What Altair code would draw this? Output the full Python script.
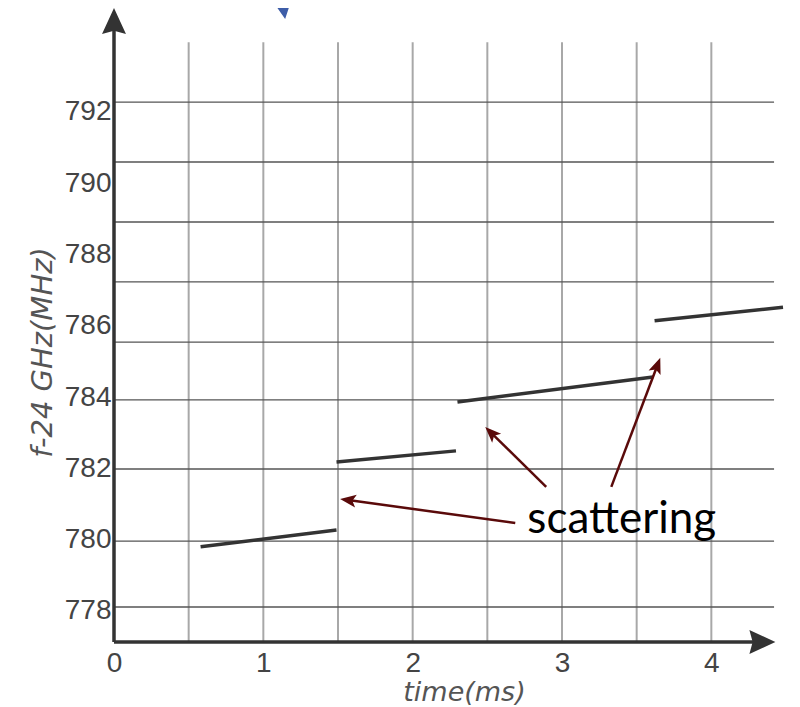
import math
import altair as alt
import pandas as pd

# ---------------- data ----------------
x_ticks = [0, 1, 2, 3, 4]
y_ticks = [778, 780, 782, 784, 786, 788, 790, 792]

# grid lines as drawn in the figure
grid_x = [0.5, 1.0, 1.5, 2.0, 2.5, 3.0, 3.5, 4.0]
grid_y = [778.11, 779.96, 781.98, 783.92, 785.54, 787.23, 788.91, 790.59, 792.27]
grid_x_end = 4.42
grid_y_top = 793.95

# frequency segments (start / end)
seg_t0 = [0.58, 1.49, 2.30, 3.62]
seg_f0 = [779.80, 782.18, 783.86, 786.14]
seg_t1 = [1.49, 2.29, 3.61, 4.48]
seg_f1 = [780.27, 782.49, 784.56, 786.52]

# annotation
note_text = ["scattering"]
note_t = [3.40]
note_f = [780.19]
arrow_t0 = [2.687, 2.894, 3.330]
arrow_f0 = [780.47, 781.48, 781.48]
arrow_t1 = [1.514, 2.486, 3.658]
arrow_f1 = [781.14, 783.16, 785.10]

# partial blue arrow at the top
blue_t0, blue_f0 = [1.125], [795.2]
blue_t1, blue_f1 = [1.146], [794.60]

# axis arrow tips
x_axis_tip = 4.429

# ---------------- scales ----------------
X_DOM = (0.0, 4.5)
W = 672
Y_DOM = (777.13, 794.91)
H = 634


def px(t):
    return (t - X_DOM[0]) / (X_DOM[1] - X_DOM[0]) * W


def py(f):
    return (Y_DOM[1] - f) / (Y_DOM[1] - Y_DOM[0]) * H


def tx(p):
    return X_DOM[0] + p / W * (X_DOM[1] - X_DOM[0])


def fy(p):
    return Y_DOM[1] - p / H * (Y_DOM[1] - Y_DOM[0])


def head(t0, f0, t1, f1, length):
    dx = px(t1) - px(t0)
    dy = py(f1) - py(f0)
    d = math.hypot(dx, dy)
    ux, uy = dx / d, dy / d
    cx = px(t1) - ux * length / 2
    cy = py(f1) - uy * length / 2
    ang = math.degrees(math.atan2(ux, -uy)) % 360
    return tx(cx), fy(cy), ang


xs = alt.Scale(domain=list(X_DOM), nice=False, zero=False)
ys = alt.Scale(domain=list(Y_DOM), nice=False, zero=False)

# ---------------- frames ----------------
vgrid_df = pd.DataFrame({"x": grid_x, "y": [Y_DOM[0]] * len(grid_x), "y2": [grid_y_top] * len(grid_x)})
hgrid_df = pd.DataFrame({"y": grid_y, "x": [0.0] * len(grid_y), "x2": [grid_x_end] * len(grid_y)})
seg_df = pd.DataFrame({"x": seg_t0, "y": seg_f0, "x2": seg_t1, "y2": seg_f1})

AL = 16  # annotation arrowhead length
heads = [head(a, b, c, d, AL) for a, b, c, d in zip(arrow_t0, arrow_f0, arrow_t1, arrow_f1)]
arr_df = pd.DataFrame({"x": arrow_t0, "y": arrow_f0,
                       "x2": [h[0] for h in heads], "y2": [h[1] for h in heads]})
head_df = pd.DataFrame({"x": [h[0] for h in heads], "y": [h[1] for h in heads],
                        "angle": [h[2] for h in heads]})

# axis arrows
XL = 26
y_head = head(0.0, Y_DOM[0], 0.0, Y_DOM[1], XL)
x_head = head(0.0, Y_DOM[0], x_axis_tip, Y_DOM[0], XL)
axis_line_df = pd.DataFrame({"x": [0.0, 0.0], "y": [Y_DOM[0], Y_DOM[0]],
                             "x2": [0.0, x_head[0]], "y2": [y_head[1], Y_DOM[0]]})
axis_head_df = pd.DataFrame({"x": [y_head[0], x_head[0]], "y": [y_head[1], x_head[1]],
                             "angle": [y_head[2], x_head[2]]})

BL = 15
b_head = head(blue_t0[0], blue_f0[0], blue_t1[0], blue_f1[0], BL)
blue_line_df = pd.DataFrame({"x": blue_t0, "y": blue_f0, "x2": [b_head[0]], "y2": [b_head[1]]})
blue_head_df = pd.DataFrame({"x": [b_head[0]], "y": [b_head[1]], "angle": [b_head[2]]})

note_df = pd.DataFrame({"x": note_t, "y": note_f, "text": note_text})

# ---------------- axes (shared by every layer) ----------------
x_axis = alt.Axis(values=x_ticks, title="time(ms)", grid=False, ticks=False, domain=False,
                  labelFont="Liberation Sans", labelFontSize=28, labelColor="#444",
                  labelPadding=7, labelFlush=False, format="d",
                  titleFont="DejaVu Sans", titleFontStyle="italic", titleFontWeight="normal",
                  titleFontSize=27, titleColor="#555", titleX=350, titleY=50,
                  titleBaseline="middle", titleAlign="center")
y_axis = alt.Axis(values=y_ticks, title="f-24 GHz(MHz)", grid=False, ticks=False, domain=False,
                  labelFont="Liberation Sans", labelFontSize=28, labelColor="#444",
                  labelPadding=3, labelFlush=False, format="d",
                  titleFont="DejaVu Sans", titleFontStyle="italic", titleFontWeight="normal",
                  titleFontSize=29, titleColor="#555", titleX=-72, titleY=344,
                  titleAngle=270, titleBaseline="middle", titleAlign="center")


def X(f="x"):
    return alt.X(f + ":Q", scale=xs, axis=x_axis)


def Y(f="y"):
    return alt.Y(f + ":Q", scale=ys, axis=y_axis)


vgrid = alt.Chart(vgrid_df).mark_rule(color="#a8a8a8", strokeWidth=2).encode(
    x=X(), y=Y(), y2="y2:Q",
)
hgrid = alt.Chart(hgrid_df).mark_rule(color="#555555", strokeWidth=1.4).encode(
    x=X(), x2="x2:Q", y=Y(),
)
axis_lines = alt.Chart(axis_line_df).mark_rule(color="#333333", strokeWidth=3.5).encode(
    x=X(), x2="x2:Q", y=Y(), y2="y2:Q",
)
axis_heads = alt.Chart(axis_head_df).mark_point(
    shape="M0,-1L0.92,1L0,0.75L-0.92,1Z", filled=True, size=XL * XL, opacity=1,
    color="#333333", strokeWidth=0).encode(
    x=X(), y=Y(), angle=alt.Angle("angle:Q", scale=None),
)
segs = alt.Chart(seg_df).mark_rule(color="#333333", strokeWidth=3.5).encode(
    x=X(), x2="x2:Q", y=Y(), y2="y2:Q",
)
arrows = alt.Chart(arr_df).mark_rule(color="#5a0a0a", strokeWidth=2.5).encode(
    x=X(), x2="x2:Q", y=Y(), y2="y2:Q",
)
arrow_heads = alt.Chart(head_df).mark_point(
    shape="M0,-1L0.8,1L0,0.55L-0.8,1Z", filled=True, size=AL * AL, opacity=1,
    color="#5a0a0a", strokeWidth=0).encode(
    x=X(), y=Y(), angle=alt.Angle("angle:Q", scale=None),
)
blue_line = alt.Chart(blue_line_df).mark_rule(color="#3d5da8", strokeWidth=3).encode(
    x=X(), x2="x2:Q", y=Y(), y2="y2:Q",
)
blue_head = alt.Chart(blue_head_df).mark_point(
    shape="M0,-1L1,1L0,0.6L-1,1Z", filled=True, size=BL * BL, opacity=1,
    color="#3d5da8", strokeWidth=0).encode(
    x=X(), y=Y(), angle=alt.Angle("angle:Q", scale=None),
)
note = alt.Chart(note_df).mark_text(font="Lato", fontSize=44, color="#000000",
                                    align="center", baseline="alphabetic").encode(
    x=X(), y=Y(), text="text:N",
)

chart = alt.layer(
    vgrid, hgrid, axis_lines, axis_heads, segs, arrows, arrow_heads, blue_line, blue_head, note
).properties(
    width=W, height=H,
    autosize=alt.AutoSizeParams(type="none"),
    padding={"left": 106, "top": 0, "right": 6, "bottom": 65},
).configure_view(strokeWidth=0)

chart.save("out.html", embed_options={"renderer": "svg", "actions": False})
